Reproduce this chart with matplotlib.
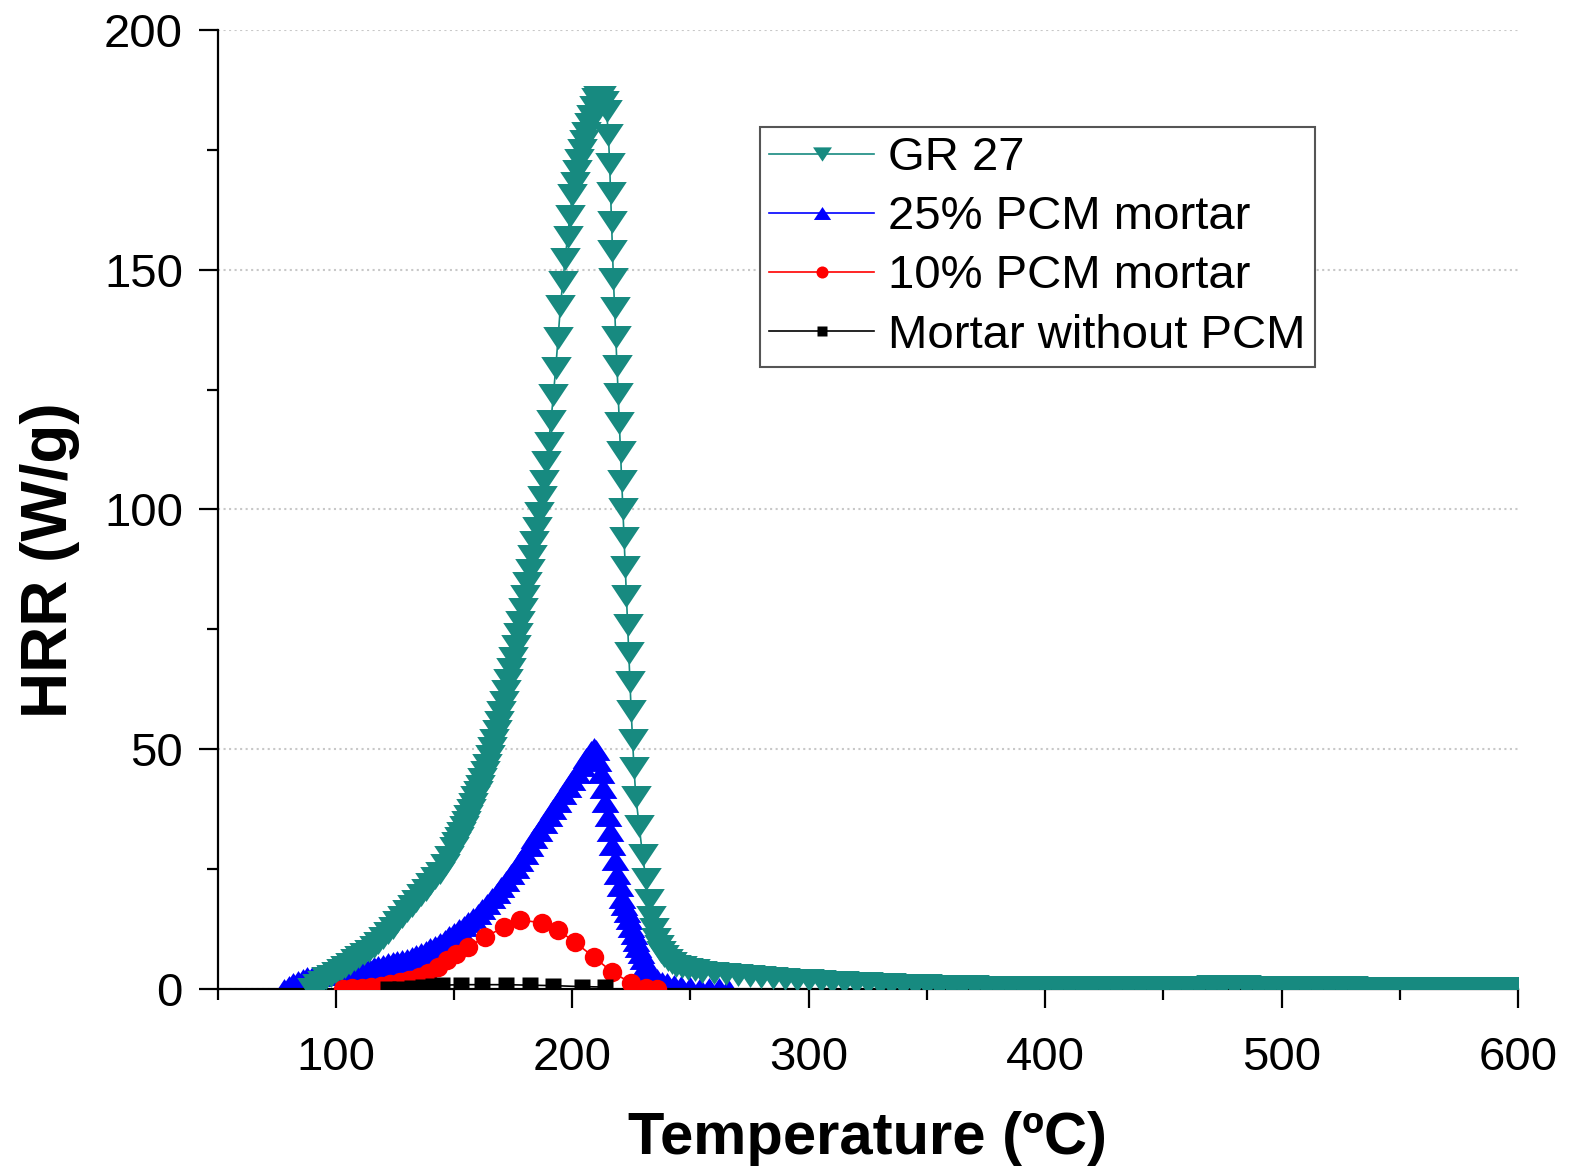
import matplotlib
matplotlib.use("Agg")
import matplotlib.pyplot as plt
from matplotlib.ticker import MultipleLocator

plt.rcParams["font.family"] = ["Liberation Sans", "DejaVu Sans"]

# GR 27 (pure PCM) -- temperature (ºC) / HRR (W/g)
gr27_t = [90, 92, 94, 96, 98, 100, 102, 104, 106, 108, 110, 112, 114, 116, 118,
          120, 122, 124, 126, 128, 130, 132, 134, 136, 138, 140, 142, 144, 146, 148,
          150, 151, 152, 153, 154, 155, 156, 157, 158, 159, 160, 161, 162, 163, 164,
          165, 166, 167, 168, 169, 170, 171, 172, 173, 174, 175, 176, 177, 178, 179,
          180, 181, 182, 183, 184, 185, 186, 187, 188, 189, 190, 191, 192, 193, 194,
          195, 196, 197, 198, 199, 200, 201, 202, 203, 204, 205, 206, 207, 208, 209,
          210, 211, 212, 213.5, 214.5, 215.3, 215.8, 216.2, 216.6, 217.0, 217.4, 217.9, 218.4, 218.9, 219.4,
          219.9, 220.4, 220.9, 221.4, 221.9, 222.4, 222.9, 223.4, 223.9, 224.4, 224.9, 225.5, 226.1, 226.9, 228.3,
          229.7, 231.1, 232.3, 233.4, 234.5, 235.5, 236.5, 237.5, 238.8, 240.3, 242, 244, 246.5, 249, 252,
          255, 260, 265, 270, 275, 280, 285, 290, 295, 300, 305, 310, 315, 320, 325,
          330, 335, 340, 345, 350, 355, 360, 365, 370, 375, 380, 385, 390, 395, 400,
          405, 410, 415, 420, 425, 430, 435, 440, 445, 450, 455, 460, 465, 470, 475,
          480, 485, 490, 495, 500, 505, 510, 515, 520, 525, 530, 535, 540, 545, 550,
          555, 560, 565, 570, 575, 580, 585, 590, 595, 600]
gr27_hrr = [0.0, 0.8, 1.5, 2.2, 2.8, 3.3, 3.9, 4.6, 5.3, 6.0, 6.65, 7.25, 8.0, 8.7, 9.6,
            10.6, 11.6, 12.7, 13.9, 15.1, 16.25, 17.3, 18.4, 19.5, 20.7, 22.0, 23.2, 24.1, 25.8, 27.5,
            29.5, 30.5, 31.5, 32.6, 33.7, 34.9, 36.1, 37.3, 38.6, 40.0, 41.1, 42.3, 43.8, 45.3, 46.8,
            48.5, 50.2, 51.9, 53.8, 55.7, 57.8, 59.9, 62.1, 64.4, 66.7, 69.0, 71.5, 74.0, 76.5, 79.2,
            81.9, 84.6, 87.4, 90.3, 93.2, 96.1, 99.2, 102.5, 106.0, 109.8, 113.9, 118.5, 123.8, 129.5, 135.8,
            142.5, 147.4, 152.3, 156.9, 161.3, 165.5, 168.0, 170.5, 172.8, 175.0, 176.8, 178.5, 180.3, 182.0, 184.0,
            185.5, 186.0, 186.0, 185.0, 183.0, 178.0, 172.0, 166.0, 160.0, 154.0, 148.0, 142.0, 136.0, 130.0, 124.0,
            118.0, 112.0, 106.0, 100.0, 94.0, 88.0, 82.0, 76.0, 70.0, 64.0, 58.0, 52.0, 46.0, 40.0, 34.0,
            28.0, 23.0, 18.5, 15.0, 12.5, 10.5, 9.0, 7.8, 6.8, 6.0, 5.4, 4.9, 4.5, 4.2, 3.9,
            3.6, 3.3, 3.05, 2.85, 2.65, 2.45, 2.25, 2.1, 1.95, 1.8, 1.65, 1.5, 1.38, 1.26, 1.15,
            1.05, 0.95, 0.87, 0.8, 0.73, 0.67, 0.62, 0.57, 0.53, 0.5, 0.47, 0.45, 0.43, 0.42, 0.41,
            0.4, 0.4, 0.39, 0.38, 0.38, 0.37, 0.37, 0.36, 0.36, 0.36, 0.38, 0.42, 0.48, 0.55, 0.6,
            0.6, 0.58, 0.52, 0.45, 0.4, 0.37, 0.35, 0.34, 0.33, 0.32, 0.32, 0.31, 0.31, 0.3, 0.3,
            0.3, 0.3, 0.3, 0.3, 0.3, 0.3, 0.3, 0.3, 0.3, 0.3]

# 25% PCM mortar
pcm25_t = [78, 80, 82, 84, 86, 88, 90, 92, 94, 96, 98, 100, 102, 104, 106,
           108, 110, 112, 114, 116, 118, 120, 122, 124, 126, 128, 130, 132, 134, 136,
           138, 140, 142, 144, 146, 148, 150, 152, 154, 156, 158, 160, 162, 164, 166,
           168, 170, 172, 174, 176, 178, 180, 182, 184, 186, 188, 190, 192, 194, 196,
           198, 200, 202, 204, 206, 208, 209, 210, 211, 212, 213, 214, 215, 216, 217,
           218, 219, 220, 221, 222, 223, 224, 225, 226, 227, 228, 229, 230, 231, 232,
           233, 234, 236, 238, 240, 243, 246, 250, 254, 258, 262, 266]
pcm25_hrr = [0.0, 0.6, 1.2, 1.7, 2.1, 2.4, 2.6, 2.7, 2.9, 3.0, 3.1, 3.2, 3.35, 3.5, 3.65,
             3.8, 4.0, 4.2, 4.4, 4.6, 4.85, 5.1, 5.35, 5.6, 5.85, 6.1, 6.35, 6.6, 7.0, 7.5,
             8.0, 8.5, 9.0, 9.6, 10.3, 11.0, 11.7, 12.5, 13.2, 14.0, 14.8, 15.6, 16.7, 17.8, 18.9,
             20.1, 21.3, 22.6, 23.9, 25.3, 26.7, 28.2, 29.8, 31.5, 33.0, 34.6, 36.1, 37.6, 39.1, 40.6,
             42.1, 43.6, 45.0, 46.5, 48.1, 49.6, 50.3, 49.8, 47.5, 45.0, 42.0, 39.0, 36.0, 33.0, 30.0,
             27.0, 24.0, 21.5, 19.0, 17.5, 16.0, 14.5, 13.0, 11.5, 10.0, 8.7, 7.5, 6.2, 5.0, 4.1,
             3.3, 2.7, 2.0, 1.5, 1.2, 0.9, 0.65, 0.4, 0.3, 0.2, 0.15, 0.1]

# 10% PCM mortar
pcm10_t = [103, 107, 111, 115, 119, 123, 127, 131, 135, 139, 143, 147, 151, 156, 163,
           171, 178, 187, 194, 201, 209, 217, 225, 231, 236]
pcm10_hrr = [0.0, 0.15, 0.3, 0.5, 0.7, 1.0, 1.4, 1.9, 2.5, 3.3, 4.5, 6.0, 7.4, 8.8, 10.8,
             12.9, 14.4, 13.8, 12.3, 9.8, 6.7, 3.5, 1.2, 0.3, 0.0]

# Mortar without PCM
mortar_t = [122, 127, 132, 137, 141, 145, 153, 162, 172, 182, 192, 204, 214]
mortar_hrr = [0.05, 0.1, 0.2, 0.35, 0.55, 0.8, 0.9, 0.9, 0.9, 0.8, 0.7, 0.5, 0.4]

TEAL = "#178a80"
TRI_DOWN = [(-1.33, 1), (1.33, 1), (0, -1), (-1.33, 1)]
TRI_UP = [(-1.33, -1), (1.33, -1), (0, 1), (-1.33, -1)]

fig = plt.figure(figsize=(15.77, 11.75), dpi=100)
ax = fig.add_axes([0.138, 0.1583, 0.8246, 0.8162])

l_gr, = ax.plot(gr27_t, gr27_hrr, color=TEAL, lw=1.2, marker=TRI_DOWN, ms=22, mec="none",
                mfc=TEAL, label="GR 27", zorder=3)
l_25, = ax.plot(pcm25_t, pcm25_hrr, color="#0000ff", lw=1.2, marker=TRI_UP, ms=20, mec="none",
                mfc="#0000ff", label="25% PCM mortar", zorder=2)
l_10, = ax.plot(pcm10_t, pcm10_hrr, color="#ff0000", lw=1.2, marker="o", ms=14, mec="none",
                mfc="#ff0000", label="10% PCM mortar", zorder=4)
l_m, = ax.plot(mortar_t, mortar_hrr, color="black", lw=1.2, marker="s", ms=11, mec="none",
               label="Mortar without PCM", zorder=5)

ax.set_xlim(50, 600)
ax.set_ylim(0, 200)
ax.xaxis.set_major_locator(MultipleLocator(100))
ax.xaxis.set_minor_locator(MultipleLocator(50))
ax.yaxis.set_major_locator(MultipleLocator(50))
ax.yaxis.set_minor_locator(MultipleLocator(25))
ax.yaxis.grid(True, which="major", linestyle=":", color="#c8c8c8", lw=1.5)
ax.set_axisbelow(True)

for side in ("top", "right"):
    ax.spines[side].set_visible(False)
for side in ("left", "bottom"):
    ax.spines[side].set_linewidth(1.6)

ax.tick_params(which="major", direction="out", length=14, width=1.6, labelsize=34)
ax.tick_params(which="minor", direction="out", length=8, width=1.6)
ax.tick_params(axis="y", which="major", pad=11)
ax.tick_params(axis="x", which="major", pad=20)

ax.set_xlabel("Temperature (ºC)", fontsize=43, fontweight="bold")
ax.set_ylabel("HRR (W/g)", fontsize=46, fontweight="bold")
ax.xaxis.set_label_coords(0.5, -0.127)
ax.yaxis.set_label_coords(-0.106, 0.447)

leg = ax.legend(handles=[l_gr, l_25, l_10, l_m], loc="upper right",
                bbox_to_anchor=(0.844, 0.899), fontsize=34,
                frameon=True, fancybox=False, edgecolor="#555555", framealpha=1,
                handlelength=2.22, handletextpad=0.3, labelspacing=0.32,
                borderpad=0.2, borderaxespad=0, markerscale=0.62)
leg.get_frame().set_linewidth(1.5)

fig.savefig("out.png", dpi=100)
